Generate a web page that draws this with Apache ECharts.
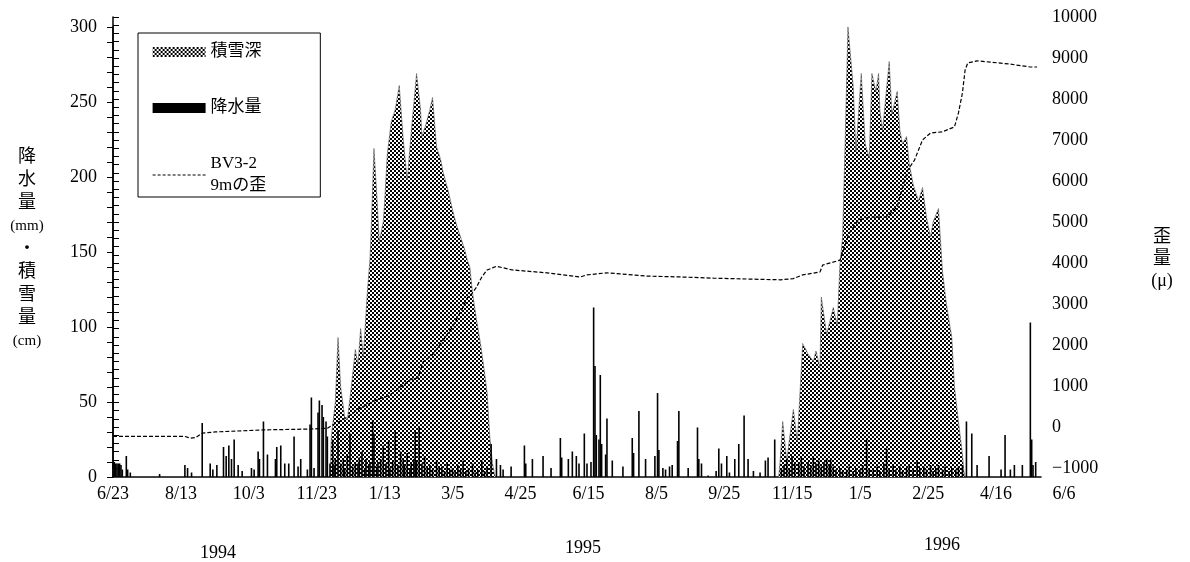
<!DOCTYPE html>
<html>
<head>
<meta charset="utf-8">
<script src="https://cdn.jsdelivr.net/npm/echarts@6/dist/echarts.min.js"></script>
<style>
html,body{margin:0;padding:0;background:#fff;}
#chart{width:1190px;height:562px;}
</style>
</head>
<body>
<div id="chart"></div>
<script>
// x values are day numbers counted from 1994-06-23
const tickLabels = ['6/23','8/13','10/3','11/23','1/13','3/5','4/25','6/15','8/5','9/25','11/15','1/5','2/25','4/16','6/6'];
const tickStepDays = 51;
const yearLabels = ['1994','1995','1996'];

// snow depth (cm): [day, depth]
const snowDepth = [
[0,0],[163,0],[164,27],[167,50],[169,93],[171,60],[174,40],[176,38],[179,60],[182,85],[184,75],[186,99],[188,80],
[191,123],[193,145],[194,167],[196,219],[198,190],[200,157],[203,170],[204,183],[206,215],[209,237],[212,245],
[215,261],[218,225],[221,198],[224,230],[228,269],[231,245],[232,227],[235,235],[238,245],[240,253],[243,220],
[246,212],[248,203],[252,190],[255,178],[258,168],[261,160],[264,152],[266,145],[268,140],[270,123],[273,105],
[276,89],[279,70],[281,56],[283,27],[285,9],[287,0],
[500,0],[501,10],[503,37],[506,11],[511,45],[514,24],[518,89],[522,82],[526,77],[528,84],[531,73],[532,120],
[536,95],[541,113],[544,101],[546,142],[548,160],[550,227],[552,300],[556,260],[558,217],[562,269],[565,222],
[568,213],[570,269],[573,257],[575,269],[576,244],[578,231],[583,277],[585,242],[589,257],[591,231],[593,222],
[596,227],[598,209],[601,195],[605,184],[608,193],[611,173],[614,160],[616,170],[620,179],[623,137],[626,115],
[630,93],[632,60],[635,37],[638,15],[639,4],[640,0],[697,0]
];

// daily precipitation (mm): [day, amount]
const precipitation = [
[0,10],[1,10],[2,9],[3,9],[4,9],[5,9],[6,8],[7,5],[10,14],[11,5],[13,3],
[35,2],[54,8],[56,6],[59,3],[67,36],[73,9],[75,5],[78,8],
[83,20],[85,14],[87,21],[89,12],[91,25],[94,8],[97,4],
[104,6],[106,5],[109,17],[110,12],[113,37],[116,15],
[122,12],[123,20],[126,21],[129,9],[132,9],
[136,27],[139,7],[141,12],[146,5],[148,35],[149,53],[151,6],
[154,43],[155,51],[157,48],[158,40],[160,37],[161,27],[163,9],
[165,25],[166,8],[167,12],[169,31],[171,9],[173,12],[174,6],[176,15],[178,29],[180,7],[182,10],[184,9],[185,13],
[187,17],[189,6],[190,12],[192,8],[193,10],[195,38],[196,29],[198,7],[199,10],[201,12],[203,21],[205,9],[207,24],
[208,6],[210,10],[212,30],[214,8],[216,17],[218,12],[219,8],[221,16],[223,6],[224,9],[226,12],[227,31],[228,10],
[230,33],[232,9],[234,14],[236,6],[238,8],[240,5],[243,11],[245,6],[247,7],[249,4],[251,10],[253,5],[255,6],
[257,4],[259,8],[261,5],[263,11],[265,4],[267,6],[270,9],[272,3],[274,5],[277,11],[279,4],[281,6],[284,22],
[288,12],[291,8],[293,5],[299,7],[309,21],[310,9],[315,12],[323,14],[329,6],[336,26],[337,13],[342,12],[345,17],
[348,14],[350,9],[354,29],[356,9],[359,10],[361,113],[362,74],[363,28],[365,25],[366,68],[367,22],[370,15],
[371,39],[375,11],[383,7],[390,26],[391,16],[395,44],[400,12],[407,14],[409,56],[410,18],[413,6],[415,5],
[418,7],[420,8],[424,24],[425,44],[432,6],[439,33],[440,12],[442,9],[447,1],[453,4],[455,19],[457,9],[461,14],
[463,3],[467,12],[470,22],[474,41],[477,12],[481,4],[486,3],[490,11],[492,13],[497,25],[502,6],
[504,8],[506,12],[508,6],[510,14],[512,9],[515,10],[517,13],[519,7],[522,10],[524,8],[526,13],[528,9],[530,11],
[532,7],[534,10],[536,12],[538,8],[539,12],[541,7],[543,5],[546,6],[548,4],[551,5],[553,7],[556,4],[558,6],
[561,5],[563,8],[566,25],[568,6],[571,5],[574,7],[576,4],[579,9],[581,19],[583,6],[586,8],[588,5],[591,7],
[593,4],[596,6],[598,8],[601,5],[604,10],[606,6],[609,7],[611,5],[614,8],[616,4],[618,6],[620,8],[623,5],
[625,7],[628,4],[630,6],[633,5],[635,7],[638,8],
[641,37],[645,29],[649,8],[658,14],[667,5],[670,28],[674,5],[677,8],[683,8],[689,103],[690,25],[691,8],[693,10]
];

// strain of BV3-2 at 9 m (micro): [day, strain]
const strain = [
[0,-230],[54,-230],[58,-270],[62,-260],[67,-150],[77,-120],[114,-70],[148,-50],[161,-30],[165,50],[174,200],
[185,450],[198,660],[208,780],[223,1150],[229,1200],[233,1590],[240,1760],[248,2120],[255,2440],[263,2930],
[266,3150],[270,3270],[273,3410],[277,3660],[281,3830],[285,3880],[288,3920],[300,3830],[326,3760],[351,3660],
[356,3710],[371,3760],[401,3680],[426,3660],[451,3630],[476,3610],[501,3590],[511,3620],[518,3710],[531,3780],
[533,3950],[546,4070],[553,4730],[560,5050],[569,5120],[581,5120],[589,5370],[593,5850],[597,6270],[602,6510],
[608,7000],[614,7170],[623,7200],[632,7320],[635,7660],[638,8150],[640,8710],[642,8880],[649,8930],[659,8900],
[674,8850],[689,8780],[694,8780]
];

const FONT = "'Liberation Serif','Noto Sans CJK JP',serif";

// halftone pattern for snow depth
const cv = document.createElement('canvas');
cv.width = 4; cv.height = 4;
const cx = cv.getContext('2d');
cx.fillStyle = '#fff'; cx.fillRect(0,0,4,4);
cx.fillStyle = '#000';
cx.fillRect(0,0,2,2); cx.fillRect(2,2,2,2);
const snowPattern = {image: cv, repeat: 'repeat'};

const chart = echarts.init(document.getElementById('chart'), null, {renderer: 'canvas'});
const axisLineStyle = {color: '#000', width: 1.5};
const plainNum = v => (v < 0 ? '\u2212' + Math.abs(v) : String(v));

chart.setOption({
  animation: false,
  backgroundColor: '#fff',
  textStyle: {fontFamily: FONT, color: '#000'},
  grid: [
    {left: 113, right: 149, top: 27, bottom: 85},
    {left: 113, right: 126, top: 27, bottom: 85},
    {left: 113, right: 149, top: 17, bottom: 94}
  ],
  legend: {
    left: 138, top: 33, orient: 'vertical', selectedMode: false,
    itemWidth: 53, itemHeight: 10, itemGap: 34,
    padding: [8, 54, 0, 14],
    borderColor: '#000', borderWidth: 1,
    textStyle: {fontFamily: FONT, fontSize: 17, color: '#000', lineHeight: 22},
    data: [
      {name: '積雪深', icon: 'rect', itemStyle: {color: snowPattern}},
      {name: '降水量', icon: 'rect', itemStyle: {color: '#000'}},
      {name: 'BV3-2\n9mの歪', itemStyle: {opacity: 0},
       lineStyle: {color: '#000', width: 1.2, type: [3, 2]}}
    ]
  },
  xAxis: [
    {gridIndex: 0, type: 'value', min: 0, max: 697,
     axisLine: {show: true, lineStyle: axisLineStyle}, axisTick: {show: false},
     axisLabel: {show: false}, splitLine: {show: false}},
    {gridIndex: 1, type: 'value', min: 0, max: tickStepDays * (tickLabels.length - 1), interval: tickStepDays,
     axisLine: {show: false}, axisTick: {show: false}, splitLine: {show: false},
     axisLabel: {margin: 8, fontSize: 18, color: '#000', fontFamily: FONT, showMinLabel: true, showMaxLabel: true,
       formatter: v => tickLabels[Math.round(v / tickStepDays)] || ''}},
    {gridIndex: 2, type: 'value', min: 0, max: 697, show: false}
  ],
  yAxis: [
    {gridIndex: 0, type: 'value', min: 0, max: 300, interval: 50,
     axisLine: {show: true, lineStyle: axisLineStyle},
     axisTick: {show: true, length: 6, lineStyle: {color: '#000'}},
     minorTick: {show: true, splitNumber: 5, length: 6, lineStyle: {color: '#000'}},
     axisLabel: {margin: 16, fontSize: 18, color: '#000', fontFamily: FONT, formatter: plainNum},
     splitLine: {show: false}},
    {gridIndex: 1, type: 'value', min: 0, max: 300, show: false},
    {gridIndex: 2, type: 'value', position: 'right', min: -1000, max: 10000, interval: 1000,
     axisLine: {show: true, lineStyle: axisLineStyle},
     axisTick: {show: true, length: 6, lineStyle: {color: '#000'}},
     minorTick: {show: true, splitNumber: 5, length: 6, lineStyle: {color: '#000'}},
     axisLabel: {margin: 11, fontSize: 18, color: '#000', fontFamily: FONT, formatter: plainNum},
     splitLine: {show: false}}
  ],
  series: [
    {name: '積雪深', type: 'line', xAxisIndex: 0, yAxisIndex: 0, data: snowDepth,
     symbol: 'none', lineStyle: {width: 0.6, color: '#555'},
     itemStyle: {color: '#555'},
     areaStyle: {color: snowPattern, opacity: 1}, z: 1},
    {name: '降水量', type: 'bar', xAxisIndex: 0, yAxisIndex: 0, data: precipitation,
     barWidth: 1.6, itemStyle: {color: '#000'}, z: 3},
    {name: 'BV3-2\n9mの歪', type: 'line', xAxisIndex: 2, yAxisIndex: 2, data: strain,
     symbol: 'none', itemStyle: {color: '#000'},
     lineStyle: {color: '#000', width: 1.2, type: [4, 2]}, z: 4}
  ],
  graphic: [
    {type: 'text', x: 27, y: 146, style: {
      text: '降\n水\n量\n{s|(mm)}\n・\n積\n雪\n量\n{s|(cm)}',
      fontFamily: FONT, fontSize: 18, lineHeight: 23, align: 'center', fill: '#000',
      rich: {s: {fontSize: 15, fontFamily: FONT, lineHeight: 23}}}},
    {type: 'text', x: 1162, y: 226, style: {
      text: '歪\n量\n(μ)', fontFamily: FONT, fontSize: 18, lineHeight: 22, align: 'center', fill: '#000'}},
    {type: 'text', x: 218, y: 544, style: {text: yearLabels[0], fontFamily: FONT, fontSize: 18, align: 'center', fill: '#000'}},
    {type: 'text', x: 583, y: 539, style: {text: yearLabels[1], fontFamily: FONT, fontSize: 18, align: 'center', fill: '#000'}},
    {type: 'text', x: 942, y: 536, style: {text: yearLabels[2], fontFamily: FONT, fontSize: 18, align: 'center', fill: '#000'}}
  ]
});
</script>
</body>
</html>
